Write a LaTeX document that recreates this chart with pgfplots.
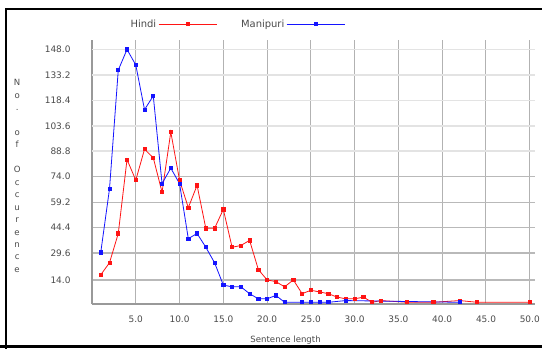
\documentclass[border=0pt]{standalone}
\usepackage{pgfplots}
\pgfplotsset{compat=1.18}
\usepackage{fontspec}
\setmainfont{DejaVu Sans}
\definecolor{txt}{RGB}{75,75,75}
\definecolor{hred}{RGB}{255,20,20}
\definecolor{mblue}{RGB}{20,20,255}

\pgfplotstableread{
x y
1 17
2 24
3 41
4 84
5 72
6 90
7 85
8 65
9 100
10 72
11 56
12 69
13 44
14 44
15 55
16 33
17 34
18 37
19 20
20 14
21 13
22 10
23 14
24 6
25 8
26 7
27 6
28 4
29 3
30 3
31 4
32 1
33 2
36 1
39 1
42 2
44 1
50 1
}\hindi

\pgfplotstableread{
x y
1 30
2 67
3 136
4 148
5 139
6 113
7 121
8 70
9 79
10 70
11 38
12 41
13 33
14 24
15 11
16 10
17 10
18 6
19 3
20 3
21 5
22 1
24 1
25 1
26 1
27 1
29 2
42 1
}\manipuri

\begin{document}
\begin{tikzpicture}[x=1bp,y=1bp]
\clip (0,0) rectangle (542,348);
\fill[white] (0,0) rectangle (542,348);
\begin{axis}[
  at={(92bp,44bp)}, anchor=south west,
  scale only axis, width=443bp, height=264bp,
  xmin=0, xmax=50.6, ymin=0, ymax=153.5,
  xtick={5,10,...,50},
  ytick={14,29.6,44.4,59.2,74},
  extra y ticks={88.8,103.6,118.4,133.2,148},
  extra y tick style={major y grid style={draw=gray!22, line width=1.6bp}},
  grid=major,
  major x grid style={draw=gray!60, line width=1bp},
  major y grid style={draw=gray!55, line width=1.3bp},
  major tick length=0pt,
  axis x line*=bottom, axis y line*=left,
  axis line style={-, draw=gray!80, line width=1.8bp},
  every outer x axis line/.append style={-},
  every outer y axis line/.append style={-},
  /pgf/number format/fixed,
  /pgf/number format/fixed zerofill,
  /pgf/number format/precision=1,
  /pgf/number format/assume math mode=true,
  tick label style={font=\fontsize{9}{10}\selectfont, text=txt},
  xticklabel style={yshift=-8bp},
  yticklabel style={xshift=-18bp},
  xlabel={Sentence length},
  xlabel style={at={(axis description cs:0.437,-0.136)}, anchor=center, font=\fontsize{8.6}{10}\selectfont, text=txt},
  ylabel={N\\o\\.\\\mbox{}\\o\\f\\\mbox{}\\O\\c\\c\\u\\r\\e\\n\\c\\e},
  ylabel style={rotate=-90, align=center, at={(axis description cs:-0.169,0.485)}, anchor=center, font=\fontsize{8.6}{12.5}\selectfont, text=txt},
  legend plot pos=right,
  legend columns=2,
  legend style={at={(0.327,1.06)}, anchor=center, draw=none, fill=none,
    font=\fontsize{10}{12}\selectfont, text=txt,
    /tikz/every even column/.append style={column sep=22bp}},
  legend image code/.code={\draw[mark repeat=2,mark phase=2,#1] plot coordinates {(0bp,0bp)(29bp,0bp)(58bp,0bp)};},
]
\addplot[color=hred, line width=0.8bp, mark=square*, mark size=1.6bp, mark options={solid}] table[x=x,y=y] {\hindi};
\addlegendentry{Hindi}
\addplot[color=mblue, line width=0.8bp, mark=square*, mark size=1.6bp, mark options={solid}] table[x=x,y=y] {\manipuri};
\addlegendentry{Manipuri}
\end{axis}
\draw[black, line width=2.5bp] (6,-5) -- (6,339) -- (560,339);
\draw[black, line width=2.5bp] (0,1.5) -- (560,1.5);
\end{tikzpicture}
\end{document}
